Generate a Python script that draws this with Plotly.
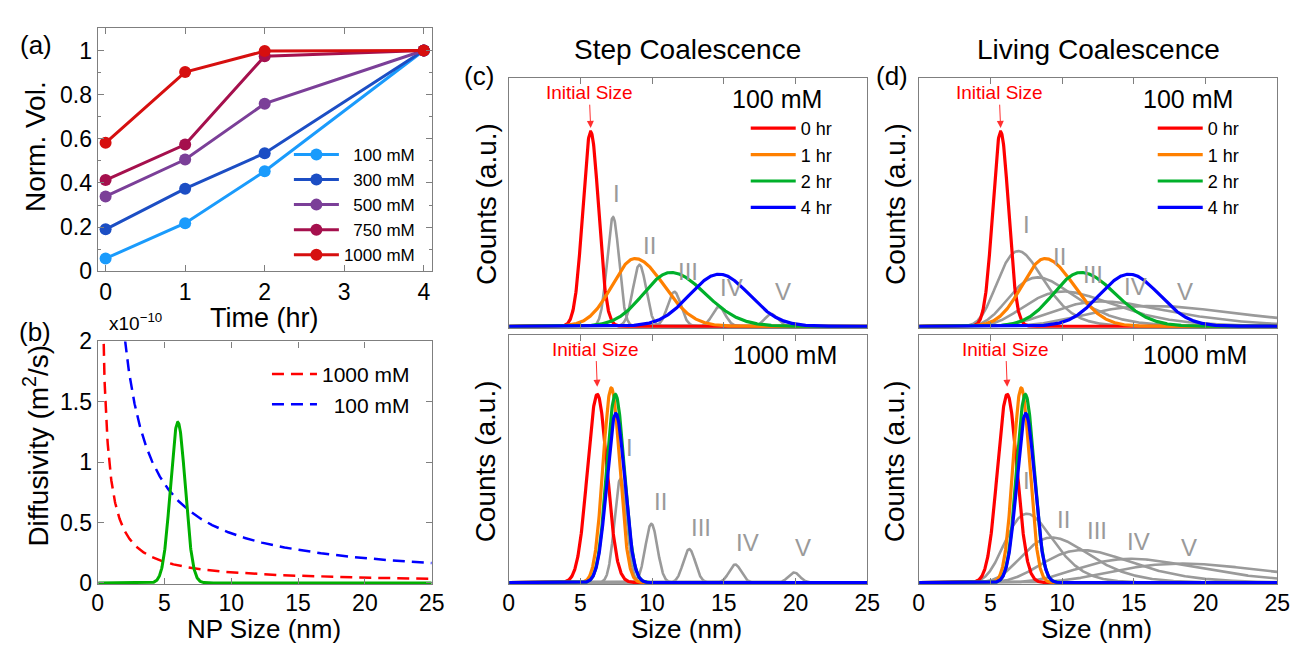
import numpy as np
import plotly.graph_objects as go

W, H = 1307, 654
FONT = "Liberation Sans, Arial, Helvetica, sans-serif"

# ---------------- (a) normalized volume vs time ----------------
time_hr = [0, 1, 2, 4]
conc_labels = ["\u2007100 mM", "\u2007300 mM", "\u2007500 mM", "\u2007750 mM", "1000 mM"]
vol_100 = [0.058, 0.218, 0.453, 1.0]
vol_300 = [0.190, 0.374, 0.535, 1.0]
vol_500 = [0.339, 0.506, 0.759, 1.0]
vol_750 = [0.413, 0.574, 0.974, 1.0]
vol_1000 = [0.582, 0.902, 0.997, 1.0]
conc_colors = ["#1A9BFC", "#1C4EC4", "#7B3F98", "#A5104D", "#D60F0F"]

# ---------------- (b) diffusivity vs NP size ----------------
diff_labels = ["1000 mM", "\u2007100 mM"]
diff_prefactor = [0.87, 4.1]          # D*size, in 1e-10 m^2/s * nm
diff_colors = ["#FF0000", "#0000FF"]
size_dist_center = 6.0
size_dist_sigma = 0.55
size_dist_height = 1.33

# ---------------- (c),(d) size distributions ----------------
hr_labels = ["0 hr", "1 hr", "2 hr", "4 hr"]
hr_colors = ["#FF0000", "#FF8000", "#00B02A", "#0000FF"]
# 100 mM
hr100_center = [5.72, 8.81, 11.30, 14.67]
hr100_height = [0.784, 0.273, 0.217, 0.210]
hr100_sig_l = [0.55, 1.60, 1.90, 2.05]
hr100_sig_r = [0.55, 2.00, 2.40, 2.10]
# 1000 mM
hr1000_center = [6.18, 7.16, 7.44, 7.47]
hr1000_height = [0.759, 0.785, 0.759, 0.682]
hr1000_sig_l = [0.68, 0.58, 0.60, 0.62]
hr1000_sig_r = [0.68, 0.58, 0.62, 0.62]

stage_labels = ["I", "II", "III", "IV", "V"]
# step coalescence (gray peaks)
step100_center = [7.28, 9.12, 11.55, 14.65, 18.30]
step100_height = [0.440, 0.248, 0.139, 0.078, 0.049]
step100_sigma = [0.42, 0.46, 0.46, 0.45, 0.45]
step1000_center = [7.80, 9.95, 12.59, 15.79, 19.90]
step1000_height = [0.420, 0.237, 0.135, 0.073, 0.041]
step1000_sigma = [0.42, 0.42, 0.42, 0.42, 0.40]
# living coalescence (gray skewed peaks)
live100_mode = [6.95, 8.30, 10.10, 12.80, 16.30]
live100_height = [0.303, 0.197, 0.140, 0.100, 0.082]
live100_width = [0.23, 0.27, 0.30, 0.31, 0.32]
live1000_mode = [7.55, 9.30, 11.40, 14.80, 18.30]
live1000_height = [0.278, 0.182, 0.131, 0.096, 0.077]
live1000_width = [0.22, 0.25, 0.27, 0.28, 0.29]

# stage label positions (data coords)
lab_c100_x = [7.55, 9.80, 12.47, 15.56, 19.10]
lab_c100_y = [0.537, 0.325, 0.222, 0.158, 0.139]
lab_c1000_x = [8.40, 10.57, 13.43, 16.64, 20.50]
lab_c1000_y = [0.545, 0.327, 0.222, 0.163, 0.141]
lab_d100_x = [7.55, 9.80, 12.13, 15.10, 18.54]
lab_d100_y = [0.409, 0.281, 0.210, 0.162, 0.140]
lab_d1000_x = [7.55, 10.07, 12.47, 15.33, 18.88]
lab_d1000_y = [0.410, 0.256, 0.212, 0.164, 0.141]

size_grid = np.linspace(0.05, 25, 1200)


def split_gauss(x, c, h, sl, sr):
    s = np.where(x < c, sl, sr)
    return h * np.exp(-0.5 * ((x - c) / s) ** 2)


def log_peak(x, m, h, w):
    return h * np.exp(-0.5 * (np.log(x / m) / w) ** 2)


def px(x):
    return x / W


def py(y):
    return 1 - y / H


fig = go.Figure()

# (a)
vols = [vol_100, vol_300, vol_500, vol_750, vol_1000]
for lab, v, col in zip(conc_labels, vols, conc_colors):
    fig.add_trace(go.Scatter(x=time_hr, y=v, mode="lines+markers", name=lab,
                             line=dict(color=col, width=3),
                             marker=dict(color=col, size=12),
                             xaxis="x", yaxis="y", legend="legend"))

# (b)
for lab, k, col in zip(diff_labels, diff_prefactor, diff_colors):
    fig.add_trace(go.Scatter(x=size_grid, y=k / size_grid, mode="lines", name=lab,
                             line=dict(color=col, width=2.5, dash="12px,7px"),
                             xaxis="x2", yaxis="y2", legend="legend2"))
fig.add_trace(go.Scatter(x=size_grid,
                         y=split_gauss(size_grid, size_dist_center, size_dist_height,
                                       size_dist_sigma, size_dist_sigma),
                         mode="lines", showlegend=False,
                         line=dict(color="#00B000", width=3),
                         xaxis="x2", yaxis="y2"))

GRAY = "#9A9A9A"


def add_panel(xa, ya, gray_curves, centers, heights, sl, sr, legend_name, showleg):
    for g in gray_curves:
        fig.add_trace(go.Scatter(x=size_grid, y=g, mode="lines", showlegend=False,
                                 line=dict(color=GRAY, width=2.6),
                                 xaxis=xa, yaxis=ya))
    for lab, c, h, a, b, col in zip(hr_labels, centers, heights, sl, sr, hr_colors):
        fig.add_trace(go.Scatter(x=size_grid, y=split_gauss(size_grid, c, h, a, b),
                                 mode="lines", name=lab, showlegend=showleg,
                                 line=dict(color=col, width=3.2),
                                 xaxis=xa, yaxis=ya, legend=legend_name))


step100 = [split_gauss(size_grid, c, h, s, s) for c, h, s in zip(step100_center, step100_height, step100_sigma)]
step1000 = [split_gauss(size_grid, c, h, s, s) for c, h, s in zip(step1000_center, step1000_height, step1000_sigma)]
live100 = [log_peak(size_grid, m, h, w) for m, h, w in zip(live100_mode, live100_height, live100_width)]
live1000 = [log_peak(size_grid, m, h, w) for m, h, w in zip(live1000_mode, live1000_height, live1000_width)]

add_panel("x3", "y3", step100, hr100_center, hr100_height, hr100_sig_l, hr100_sig_r, "legend3", True)
add_panel("x4", "y4", step1000, hr1000_center, hr1000_height, hr1000_sig_l, hr1000_sig_r, "legend3", False)
add_panel("x5", "y5", live100, hr100_center, hr100_height, hr100_sig_l, hr100_sig_r, "legend4", True)
add_panel("x6", "y6", live1000, hr1000_center, hr1000_height, hr1000_sig_l, hr1000_sig_r, "legend4", False)

FRAME = "#7F7F7F"
base_ax = dict(showline=True, linecolor=FRAME, linewidth=1.2, mirror="ticks",
               ticks="inside", tickcolor=FRAME, ticklen=6, tickwidth=1,
               showgrid=False, zeroline=False,
               tickfont=dict(size=23, color="black", family=FONT))

dom_ax = [px(93), px(432)]
dom_cx = [px(510), px(874)]
dom_dx = [px(926), px(1290)]
dom_top = [py(328), py(68)]
dom_bot = [py(595), py(335)]

lay = dict(
    width=W, height=H, margin=dict(l=0, r=0, t=0, b=0),
    paper_bgcolor="white", plot_bgcolor="white",
    font=dict(family=FONT, color="black"),
    xaxis=dict(base_ax, domain=dom_ax, range=[-0.1, 4.1], tickvals=[0, 1, 2, 3, 4], anchor="y"),
    yaxis=dict(base_ax, domain=[py(269), py(16)], range=[0, 1.1],
               tickvals=[0, 0.2, 0.4, 0.6, 0.8, 1], ticktext=["0", "0.2", "0.4", "0.6", "0.8", "1"],
               minor=dict(ticks="inside", dtick=0.1, ticklen=3, tickcolor=FRAME), anchor="x"),
    xaxis2=dict(base_ax, domain=dom_ax, range=[0, 25], tickvals=[0, 5, 10, 15, 20, 25],
                ticklabelstandoff=-2, anchor="y2"),
    yaxis2=dict(base_ax, domain=[py(595), py(342)], range=[-0.012, 2],
                tickvals=[0, 0.5, 1, 1.5, 2], ticktext=["0", "0.5", "1", "1.5", "2"], anchor="x2"),
)
for i, (dx, dy, lbl) in enumerate([(dom_cx, dom_top, False), (dom_cx, dom_bot, True),
                                    (dom_dx, dom_top, False), (dom_dx, dom_bot, True)], start=3):
    lay[f"xaxis{i}"] = dict(base_ax, domain=dx, range=[0, 25], tickvals=[0, 5, 10, 15, 20, 25],
                            showticklabels=lbl, ticklabelstandoff=-2, anchor=f"y{i}")
    lay[f"yaxis{i}"] = dict(base_ax, domain=dy, range=[-0.007, 1], ticks="", showticklabels=False,
                            mirror=True, anchor=f"x{i}")

leg_common = dict(bgcolor="rgba(0,0,0,0)", borderwidth=0, xanchor="right", yanchor="top",
                  itemwidth=45, tracegroupgap=0)
lay["legend"] = dict(leg_common, x=px(420), y=py(129), font=dict(size=17, family=FONT))
lay["legend2"] = dict(leg_common, x=px(415), y=py(355), font=dict(size=21, family=FONT))
lay["legend3"] = dict(leg_common, x=px(844), y=py(101), font=dict(size=18, family=FONT))
lay["legend4"] = dict(leg_common, x=px(1257), y=py(101), font=dict(size=18, family=FONT))

fig.update_layout(**lay)

ann = []


def txt(x, y, s, size, color="black", xref="paper", yref="paper", angle=0, **kw):
    ann.append(dict(x=x, y=y, xref=xref, yref=yref, text=s, showarrow=False, textangle=angle,
                    font=dict(size=size, color=color, family=FONT), xanchor="center",
                    yanchor="middle", **kw))


# panel labels and titles
txt(px(30), py(33), "(a)", 26)
txt(px(29), py(332), "(b)", 26)
txt(px(480), py(66), "(c)", 26)
txt(px(899), py(66), "(d)", 26)
txt(px(692), py(38), "Step Coalescence", 28)
txt(px(1109), py(38), "Living Coalescence", 28)
# axis titles
txt(px(30), py(139), "Norm. Vol.", 28, angle=-90)
txt(px(262), py(318), "Time (hr)", 27)
txt(px(31), py(451), "Diffusivity (m<sup>2</sup>/s)", 28, angle=-90)
txt(px(262), py(641), "NP Size (nm)", 26)
txt(px(131), py(322), "x10<sup>\u221210</sup>", 19)
for xc in (487, 902):
    txt(px(xc), py(199), "Counts (a.u.)", 28, angle=-90)
    txt(px(xc), py(467), "Counts (a.u.)", 28, angle=-90)
txt(px(691), py(641), "Size (nm)", 26)
txt(px(1107), py(641), "Size (nm)", 26)

# in-panel labels
panel_info = [
    ("x3", "y3", lab_c100_x, lab_c100_y, "100 mM", 18.70, 5.72, 0.80),
    ("x4", "y4", lab_c1000_x, lab_c1000_y, "1000 mM", 19.23, 6.18, 0.79),
    ("x5", "y5", lab_d100_x, lab_d100_y, "100 mM", 18.77, 5.72, 0.80),
    ("x6", "y6", lab_d1000_x, lab_d1000_y, "1000 mM", 19.28, 6.18, 0.79),
]
for xa, ya, lx, ly, conc, cx, ax_, tip in panel_info:
    for s, xx, yy in zip(stage_labels, lx, ly):
        txt(xx, yy, s, 24, color=GRAY, xref=xa, yref=ya)
    txt(cx, 0.918, conc, 25, xref=xa, yref=ya)
    ann.append(dict(x=ax_, y=tip, ax=ax_ - 0.1, ay=0.942, xref=xa, yref=ya, axref=xa, ayref=ya,
                    text="Initial Size", showarrow=True, arrowhead=2, arrowsize=1.4,
                    arrowwidth=1, arrowcolor="#FF3030",
                    font=dict(size=19, color="#FF0000", family=FONT)))

fig.update_layout(annotations=ann)
fig.write_html("out.html")
